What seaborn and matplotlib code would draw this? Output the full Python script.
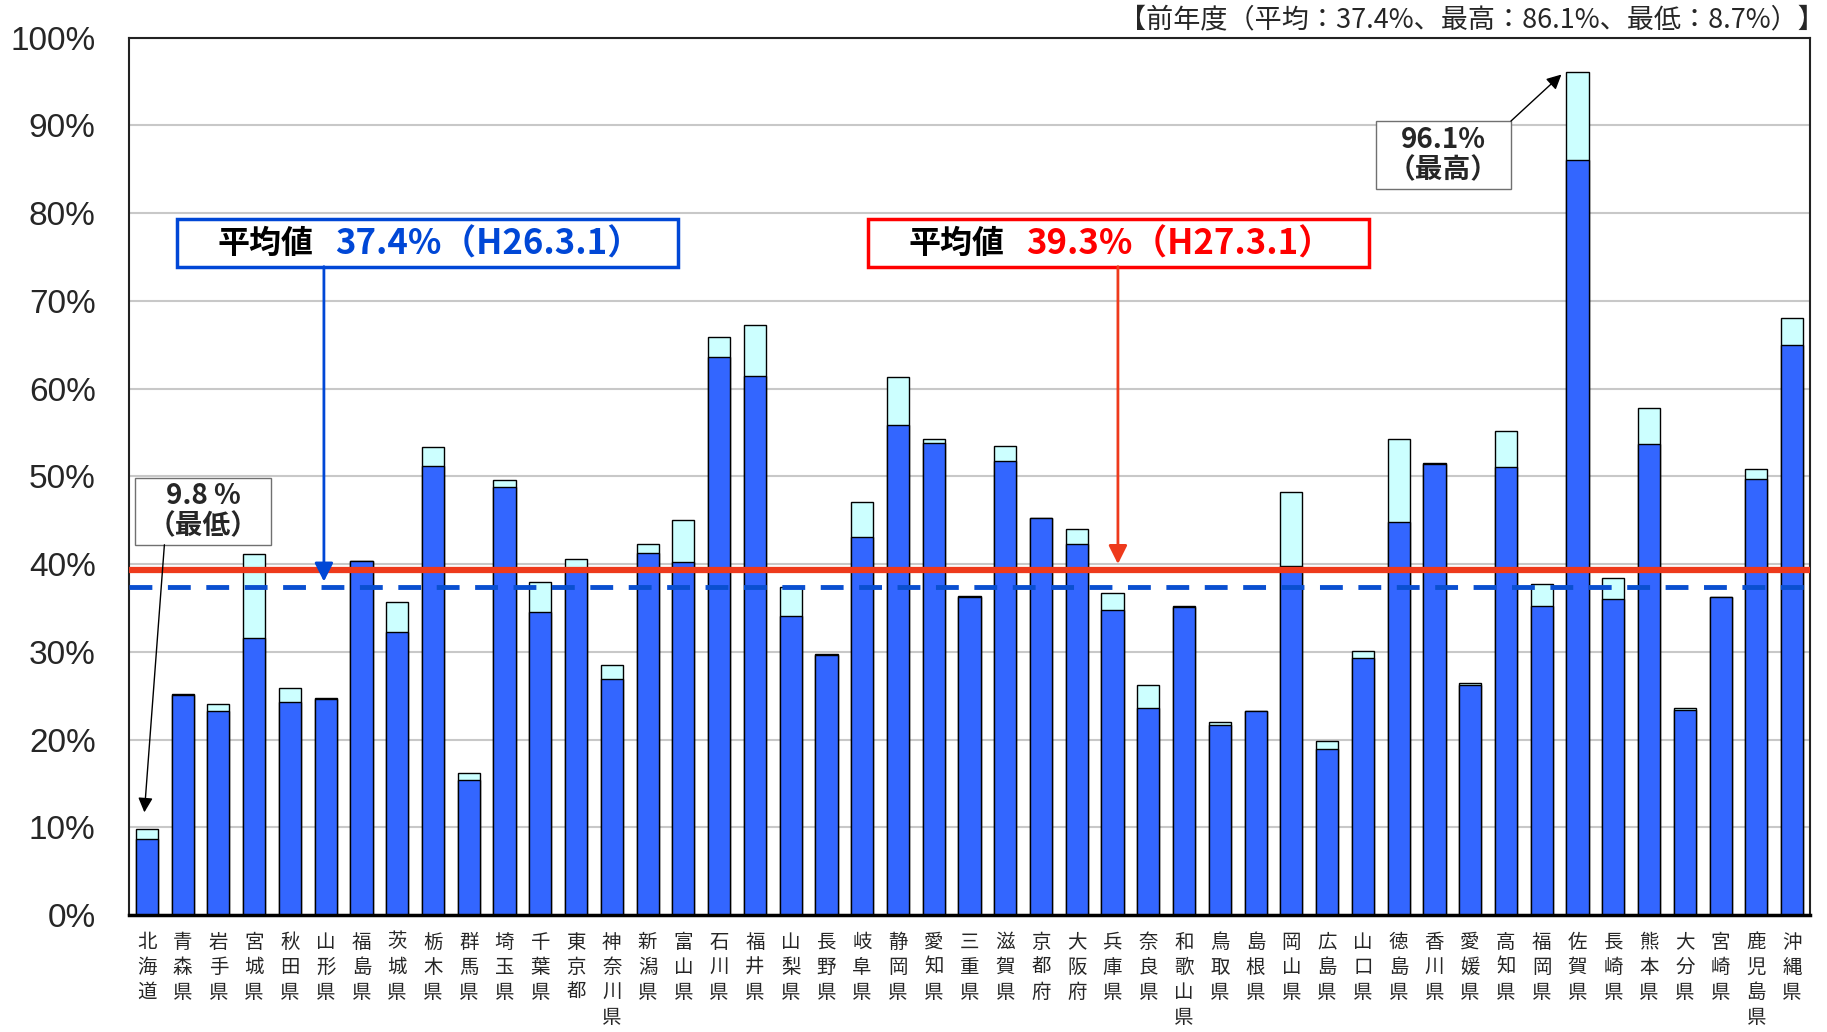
import matplotlib
matplotlib.use("Agg")
import matplotlib.pyplot as plt
from matplotlib.patches import Rectangle
from matplotlib.ticker import FixedLocator
import numpy as np
import pandas as pd
import seaborn as sns

prefs = ['北海道', '青森県', '岩手県', '宮城県', '秋田県', '山形県', '福島県', '茨城県',
         '栃木県', '群馬県', '埼玉県', '千葉県', '東京都', '神奈川県', '新潟県', '富山県',
         '石川県', '福井県', '山梨県', '長野県', '岐阜県', '静岡県', '愛知県', '三重県',
         '滋賀県', '京都府', '大阪府', '兵庫県', '奈良県', '和歌山県', '鳥取県', '島根県',
         '岡山県', '広島県', '山口県', '徳島県', '香川県', '愛媛県', '高知県', '福岡県',
         '佐賀県', '長崎県', '熊本県', '大分県', '宮崎県', '鹿児島県', '沖縄県']

# H27.3.1 (current) and H26.3.1 (previous), percent
curr = [9.8, 25.2, 24.1, 41.2, 25.9, 24.7, 40.4, 35.7, 53.3, 16.2, 49.6, 38.0,
        40.6, 28.5, 42.3, 45.0, 65.9, 67.2, 37.4, 29.7, 47.1, 61.3, 54.3, 36.4,
        53.5, 45.3, 44.0, 36.7, 26.2, 35.2, 22.0, 23.3, 48.2, 19.8, 30.1, 54.2,
        51.5, 26.4, 55.2, 37.7, 96.1, 38.4, 57.8, 23.6, 36.3, 50.8, 68.1]
prev = [8.7, 25.1, 23.2, 31.6, 24.3, 24.6, 40.3, 32.2, 51.2, 15.4, 48.8, 34.5,
        39.2, 26.9, 41.3, 40.2, 63.6, 61.4, 34.1, 29.6, 43.1, 55.9, 53.8, 36.3,
        51.8, 45.2, 42.3, 34.8, 23.6, 35.1, 21.7, 23.2, 39.8, 18.9, 29.3, 44.8,
        51.4, 26.2, 51.1, 35.2, 86.1, 36.0, 53.7, 23.4, 36.2, 49.7, 65.0]

avg_prev = 37.4
avg_curr = 39.3
yticks = [0, 10, 20, 30, 40, 50, 60, 70, 80, 90, 100]

df = pd.DataFrame({'pref': prefs, 'curr': curr, 'prev': prev})

sns.set_style("white")
plt.rcParams['font.family'] = ['Liberation Sans', 'Noto Sans CJK JP', 'DejaVu Sans']
cjk = ['Noto Sans CJK JP', 'DejaVu Sans']

fig = plt.figure(figsize=(18.27, 10.32), dpi=100)
ax = fig.add_axes([0.0706, 0.1134, 0.9201, 0.8501])

sns.barplot(data=df, x='pref', y='curr', color='#CCFFFF', saturation=1, width=0.62,
            edgecolor='black', linewidth=1, errorbar=None, ax=ax, zorder=2)
sns.barplot(data=df, x='pref', y='prev', color='#3366FF', saturation=1, width=0.62,
            edgecolor='black', linewidth=1, errorbar=None, ax=ax, zorder=2)

n = len(prefs)
ax.set_xlim(-0.5, n - 0.5)
ax.set_ylim(0, 100)
ax.set_yticks(yticks)
ax.set_yticklabels([f'{v}%' for v in yticks], fontsize=24)
ax.tick_params(axis='y', length=0, pad=24)
ax.yaxis.grid(True, color='#C8C8C8', lw=1.5)
ax.set_axisbelow(True)

ax.set_xticks(range(n))
ax.set_xticklabels(['\n'.join(p) for p in prefs], fontsize=14, family=cjk,
                   linespacing=1.25, va='top')
ax.tick_params(axis='x', which='major', length=0, pad=12)
ax.xaxis.set_minor_locator(FixedLocator(np.arange(n - 1) + 0.5))
ax.tick_params(axis='x', which='minor', direction='in', length=6, width=1, color='black')
ax.set_xlabel('')
ax.set_ylabel('')

for side in ['left', 'right', 'top']:
    ax.spines[side].set_linewidth(1.5)
    ax.spines[side].set_color('#222222')
ax.spines['bottom'].set_linewidth(2.5)
ax.spines['bottom'].set_color('black')

# average lines
ax.axhline(avg_curr, color='#EE3A1C', lw=4.5, zorder=4)
ax.axhline(avg_prev, color='#0A4FD0', lw=3.5, dashes=(4.7, 3.2), zorder=4)

# average boxes
def avg_box(x0, x1, xsplit, col, value_text):
    ax.add_patch(Rectangle((x0, 73.9), x1 - x0, 5.4, fill=True, facecolor='white',
                           edgecolor=col, lw=2.5, zorder=5))
    ax.text(xsplit - 0.3, 76.5, '平均値', ha='right', va='center', fontsize=23,
            fontweight='bold', family=cjk, color='black', zorder=6)
    ax.text(xsplit + 0.3, 76.5, value_text, ha='left', va='center', fontsize=25,
            fontweight='bold', family=cjk, color=col, zorder=6)

avg_box(0.84, 14.85, 4.95, '#0047D6', f'{avg_prev}%（H26.3.1）')
avg_box(20.16, 34.17, 24.29, '#FF0000', f'{avg_curr}%（H27.3.1）')

ax.annotate('', xy=(4.95, 38.0), xytext=(4.95, 73.9),
            arrowprops=dict(arrowstyle='-|>', color='#0047D6', lw=2, mutation_scale=28,
                            shrinkA=0, shrinkB=0), zorder=6)
ax.annotate('', xy=(27.15, 40.0), xytext=(27.15, 73.9),
            arrowprops=dict(arrowstyle='-|>', color='#EE3A1C', lw=2, mutation_scale=28,
                            shrinkA=0, shrinkB=0), zorder=6)

# min / max callouts
def callout(x0, x1, y0, y1, text, start, tip):
    ax.add_patch(Rectangle((x0, y0), x1 - x0, y1 - y0, facecolor='white',
                           edgecolor='#707070', lw=1, zorder=5))
    ax.text((x0 + x1) / 2, (y0 + y1) / 2, text, ha='center', va='center', fontsize=20,
            fontweight='bold', family=cjk, linespacing=1.1, zorder=6)
    ax.annotate('', xy=tip, xytext=start,
                arrowprops=dict(arrowstyle='-|>', color='black', lw=1, mutation_scale=22,
                                shrinkA=0, shrinkB=0), zorder=6)

i_min = int(np.argmin(curr))
i_max = int(np.argmax(curr))
callout(-0.33, 3.48, 42.2, 49.8, f'{curr[i_min]} %\n（最低）', (0.49, 42.2), (i_min - 0.07, 11.7))
callout(34.36, 38.14, 82.75, 90.5, f'{curr[i_max]}%\n（最高）', (38.14, 90.5), (i_max - 0.45, 95.8))

fig.text(0.999, 0.981,
         f'【前年度（平均：{avg_prev}%、最高：{max(prev)}%、最低：{min(prev)}%）】',
         ha='right', va='center', fontsize=19.5, family=cjk)

fig.savefig('out.png', dpi=100)
